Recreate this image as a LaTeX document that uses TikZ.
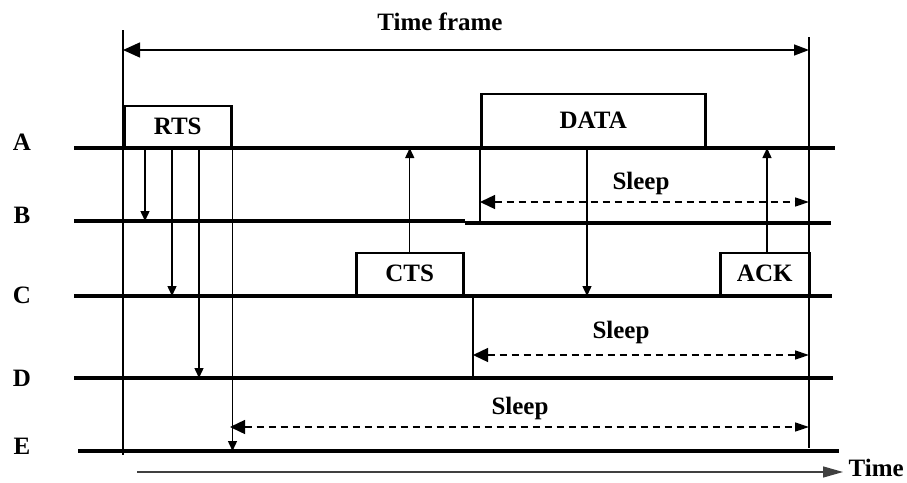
\documentclass[tikz,border=0pt]{standalone}
\usepackage{fontspec}
\setmainfont{Liberation Serif}
\usetikzlibrary{arrows.meta}

\begin{document}
\begin{tikzpicture}[x=1pt, y=-1pt,
    lbl/.style={font=\fontsize{25}{30}\selectfont\bfseries, inner sep=0pt},
    pkt/.style={draw, line width=2.5pt, font=\fontsize{25}{30}\selectfont\bfseries, anchor=south west},
    tline/.style={line width=3.5pt},
    vline/.style={line width=1.4pt},
    msg/.style={line width=1.4pt, -{Triangle[length=10pt,width=9pt]}},
    sleeparr/.style={line width=1.4pt, dash pattern=on 7pt off 5pt,
        {Triangle[length=15pt,width=14pt]}-{Triangle[length=14pt,width=9pt]}}]
    \useasboundingbox (0,0) rectangle (907,482);
    % time lines of the stations
    \coordinate (A0) at (74,148);  \coordinate (A1) at (835,148);
    \coordinate (B0) at (74,221);  \coordinate (Bs) at (465,221);
    \coordinate (Bt) at (465,223); \coordinate (B1) at (831,223);
    \coordinate (C0) at (74,296);  \coordinate (C1) at (832,296);
    \coordinate (D0) at (74,378);  \coordinate (D1) at (833,378);
    \coordinate (E0) at (78,451);  \coordinate (E1) at (839,451);
    \draw[tline] (A0) -- (A1);
    \draw[tline] (B0) -- (Bs) (Bt) -- (B1);
    \draw[tline] (C0) -- (C1);
    \draw[tline] (D0) -- (D1);
    \draw[tline] (E0) -- (E1);
    \node[lbl] (labA) at (22,142) {A};
    \node[lbl] (labB) at (22,215) {B};
    \node[lbl] (labC) at (22,295) {C};
    \node[lbl] (labD) at (22,378) {D};
    \node[lbl] (labE) at (22,446) {E};
    % time frame
    \coordinate (F0) at (123,30);  \coordinate (F0b) at (123,455);
    \coordinate (F1) at (809,37);  \coordinate (F1b) at (809,448);
    \draw[vline] (F0) -- (F0b);
    \draw[vline] (F1) -- (F1b);
    \coordinate (tf0) at (123,50); \coordinate (tf1) at (809,50);
    \draw[line width=1.4pt, {Triangle[length=17pt,width=15pt]}-{Triangle[length=15pt,width=11pt]}] (tf0) -- (tf1);
    \node[lbl] (tframe) at (440,22) {Time frame};
    % packets
    \node[pkt, minimum width=107, minimum height=41] (rts) at (123,148) {RTS};
    \node[pkt, minimum width=224, minimum height=53] (data) at (480,148) {DATA};
    \node[pkt, minimum width=107, minimum height=42] (cts) at (355,296) {CTS};
    \node[pkt, minimum width=89, minimum height=42] (ack) at (719,296) {ACK};
    % RTS reaches the neighbours
    \draw[msg] ([xshift=22]rts.south west) -- ([xshift=22]rts.south west |- B0);
    \draw[msg] ([xshift=49]rts.south west) -- ([xshift=49]rts.south west |- C0);
    \draw[msg] ([xshift=76]rts.south west) -- ([xshift=76]rts.south west |- D0);
    \draw[msg] (rts.south east) -- (rts.south east |- E0);
    % CTS, DATA and ACK
    \draw[msg] (cts.north) -- (cts.north |- A0);
    \draw[msg] ([xshift=107]data.south west) -- ([xshift=107]data.south west |- C0);
    \draw[msg] ([xshift=48]ack.north west) -- ([xshift=48]ack.north west |- A0);
    % sleeping stations
    \draw[vline] (data.south west) -- (data.south west |- Bt);
    \coordinate (sB0) at (480,202); \coordinate (sB1) at (809,202);
    \draw[sleeparr] (sB0) -- (sB1);
    \node[lbl] (sleepB) at (641,183) {Sleep};
    \coordinate (dC) at (473,296); \coordinate (dD) at (473,378);
    \draw[vline] (dC) -- (dD);
    \coordinate (sD0) at (473,355); \coordinate (sD1) at (809,355);
    \draw[sleeparr] (sD0) -- (sD1);
    \node[lbl] (sleepD) at (621,332) {Sleep};
    \coordinate (sE0) at (230,427); \coordinate (sE1) at (809,427);
    \draw[sleeparr] (sE0) -- (sE1);
    \node[lbl] (sleepE) at (520,408) {Sleep};
    % time axis
    \coordinate (t0) at (137,472); \coordinate (t1) at (843,472);
    \draw[line width=1.4pt, black!75, -{Triangle[length=20pt,width=11pt]}] (t0) -- (t1);
    \node[lbl, anchor=east] (time) at (904,468) {Time};
\end{tikzpicture}
\end{document}
